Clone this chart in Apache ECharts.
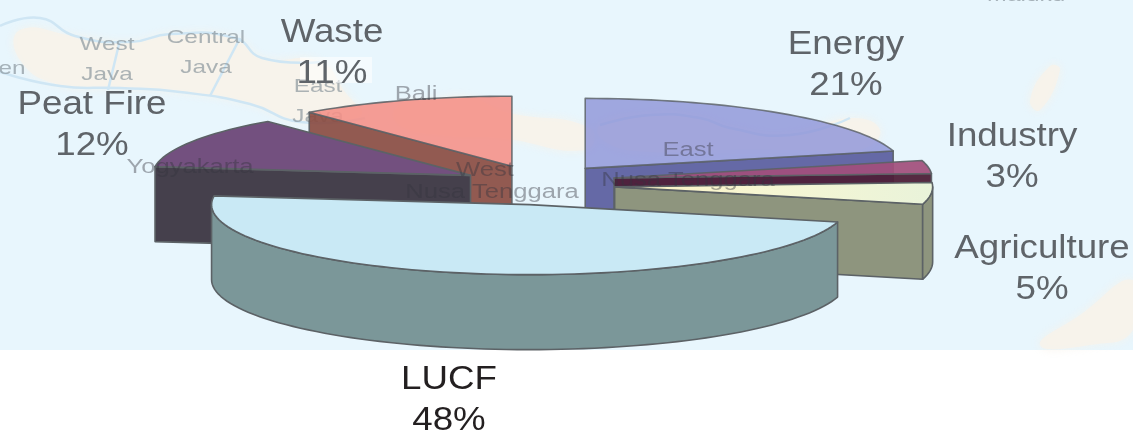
<!DOCTYPE html>
<html><head><meta charset="utf-8">
<style>html,body{margin:0;padding:0;background:#fff}#c{width:1133px;height:431px}</style>
<script src="https://cdn.jsdelivr.net/npm/echarts@6/dist/echarts.min.js"></script>
</head><body><div id="c"></div>
<script>
const categories = ['Energy','Industry','Agriculture','LUCF','Peat Fire','Waste'];
const shares = [21,3,5,48,12,11];
const topColors = ['#8f95d8','#a14f7c','#eef6dc','#c9e9f5','#73507f','#f58f86'];
const wallColors = ['#565a9c','#4e1f38','#8e957e','#7b9799','#45404c','#8a4c42'];
const topOpacity = [0.82,0.93,1,1,1,0.88];
const wallOpacity = [0.9,0.95,1,1,1,0.92];
const explodeX = [77,77,77,45,77,77];
const explodeY = [21,45,20,20,20,20];
const labelCentres = [[846,65],[1012,157],[1042,269],[449,400],[92,125],[332,53]];
const labelColors = ['#5f6469','#5f6469','#5f6469','#231f20','#5f6469','#5f6469'];
const mapLabelsUnder = [['West\nJava',107,60],['Central\nJava',206,53],['East\nJava',318,102],['Maluku',1026,-4],['en',12,69]];
const mapLabelsOver = [['Bali',416,94],['Yogyakarta',190,167],['West',485,170],['Nusa Tenggara',492,192],['East',688,150],['Nusa Tenggara',688,180]];
const land = [
 [[20,30],[75,36],[130,42],[170,34],[235,38],[262,58],[320,62],[345,92],[360,116],[300,122],[250,104],[180,92],[120,88],[60,85],[20,60]],
 [[396,108],[430,100],[470,98],[505,112],[590,128],[586,150],[500,138],[440,135],[400,125]],
 [[600,125],[650,115],[700,118],[730,128],[790,135],[850,118],[880,130],[860,150],[800,150],[720,150],[650,152],[605,142]],
 [[1030,100],[1050,66],[1060,70],[1040,110]],
 [[1040,345],[1080,315],[1133,280],[1133,330],[1090,345]]
];
const coasts = [
 [[0,72],[60,86],[120,88],[180,92],[250,104],[300,122],[365,118]],
 [[0,26],[40,18],[75,36],[130,42],[170,34],[235,38],[262,58],[320,62]],
 [[600,125],[650,115],[700,118],[730,128],[790,135],[850,118]],
 [[120,40],[108,90]],[[240,38],[210,96]]
];
const CX=538, CY=185, RX=318, RY=70, DEPTH=75;
const rad=d=>d*Math.PI/180;

function renderSlice(params, api){
  const i=params.dataIndex;
  let before=0; for(let k=0;k<i;k++) before+=shares[k];
  const total=shares.reduce((a,b)=>a+b,0);
  const a0=before/total*360, a1=(before+api.value(0))/total*360, mid=(a0+a1)/2;
  const ax=CX+explodeX[i]*Math.sin(rad(mid)), ay=CY-explodeY[i]*Math.cos(rad(mid));
  const rim=a=>[ax+RX*Math.sin(rad(a)), ay-RY*Math.cos(rad(a))];
  const arc=(f,t)=>{const p=[];const n=Math.max(2,Math.ceil(Math.abs(t-f)/2));for(let j=0;j<=n;j++)p.push(rim(f+(t-f)*j/n));return p;};
  const down=p=>[p[0],p[1]+DEPTH];
  const z=Math.round(ay);
  const line={stroke:'#5c6266',lineWidth:1.6,lineJoin:'round'};
  const kids=[];
  const wall=(pts)=>kids.push({type:'polygon',z2:z,silent:true,shape:{points:pts},style:Object.assign({fill:wallColors[i],opacity:wallOpacity[i]},line)});
  if(Math.sin(rad(a0))<-1e-6){const e=rim(a0);wall([[ax,ay],e,down(e),[ax,ay+DEPTH]]);}
  if(Math.sin(rad(a1))>1e-6){const e=rim(a1);wall([[ax,ay],e,down(e),[ax,ay+DEPTH]]);}
  const r0=Math.max(a0,90), r1=Math.min(a1,270);
  if(r1>r0){const t=arc(r0,r1);wall(t.concat(t.slice().reverse().map(down)));}
  let fill=topColors[i];
  if(categories[i]==='Agriculture') fill=new echarts.graphic.LinearGradient(0,0,1,0,[{offset:0,color:'#fdf3c4'},{offset:0.45,color:'#f7f6d2'},{offset:1,color:'#e9f3da'}]);
  kids.push({type:'polygon',z2:z,silent:true,shape:{points:[[ax,ay]].concat(arc(a0,a1))},style:Object.assign({fill:fill,opacity:topOpacity[i]},line)});
  return {type:'group',children:kids};
}

const graphicEls=[{type:'rect',silent:true,z:0,shape:{x:0,y:0,width:1133,height:350},style:{fill:'#e8f6fd'}}];
land.forEach(p=>graphicEls.push({type:'polygon',silent:true,z:0,shape:{points:p,smooth:0.5},style:{fill:'#f8f3ea',opacity:0.8,shadowBlur:10,shadowColor:'#f8f3ea'}}));
coasts.forEach(p=>graphicEls.push({type:'polyline',silent:true,z:0,shape:{points:p,smooth:0.5},style:{fill:'none',stroke:'#cfe6f4',lineWidth:2.5}}));
mapLabelsUnder.forEach(m=>graphicEls.push({type:'text',silent:true,z:0,x:m[1],y:m[2],scaleX:1.28,style:{text:m[0],fill:'#8a969c',opacity:0.7,font:'19px "Liberation Sans"',align:'center',verticalAlign:'middle',lineHeight:30}}));
mapLabelsOver.forEach(m=>graphicEls.push({type:'text',silent:true,z:15,x:m[1],y:m[2],scaleX:1.28,style:{text:m[0],fill:'#34343e',opacity:0.42,font:'20px "Liberation Sans"',align:'center',verticalAlign:'middle'}}));
graphicEls.push({type:'rect',silent:true,z:1,shape:{x:300,y:57,width:72,height:26},style:{fill:'#ffffff',opacity:0.55}});
categories.forEach((c,i)=>graphicEls.push({type:'text',silent:true,z:20,x:labelCentres[i][0],y:labelCentres[i][1],scaleX:1.08,style:{text:c+'\n'+shares[i]+'%',fill:labelColors[i],font:'34px "Liberation Sans"',align:'center',verticalAlign:'middle',lineHeight:41}}));

const chart=echarts.init(document.getElementById('c'),null,{renderer:'canvas'});
chart.setOption({
  animation:false,
  backgroundColor:'#ffffff',
  graphic:{elements:graphicEls},
  series:[{type:'custom',coordinateSystem:'none',z:10,silent:true,renderItem:renderSlice,
    data:categories.map((c,i)=>({name:c,value:shares[i]}))}]
});
</script></body></html>
